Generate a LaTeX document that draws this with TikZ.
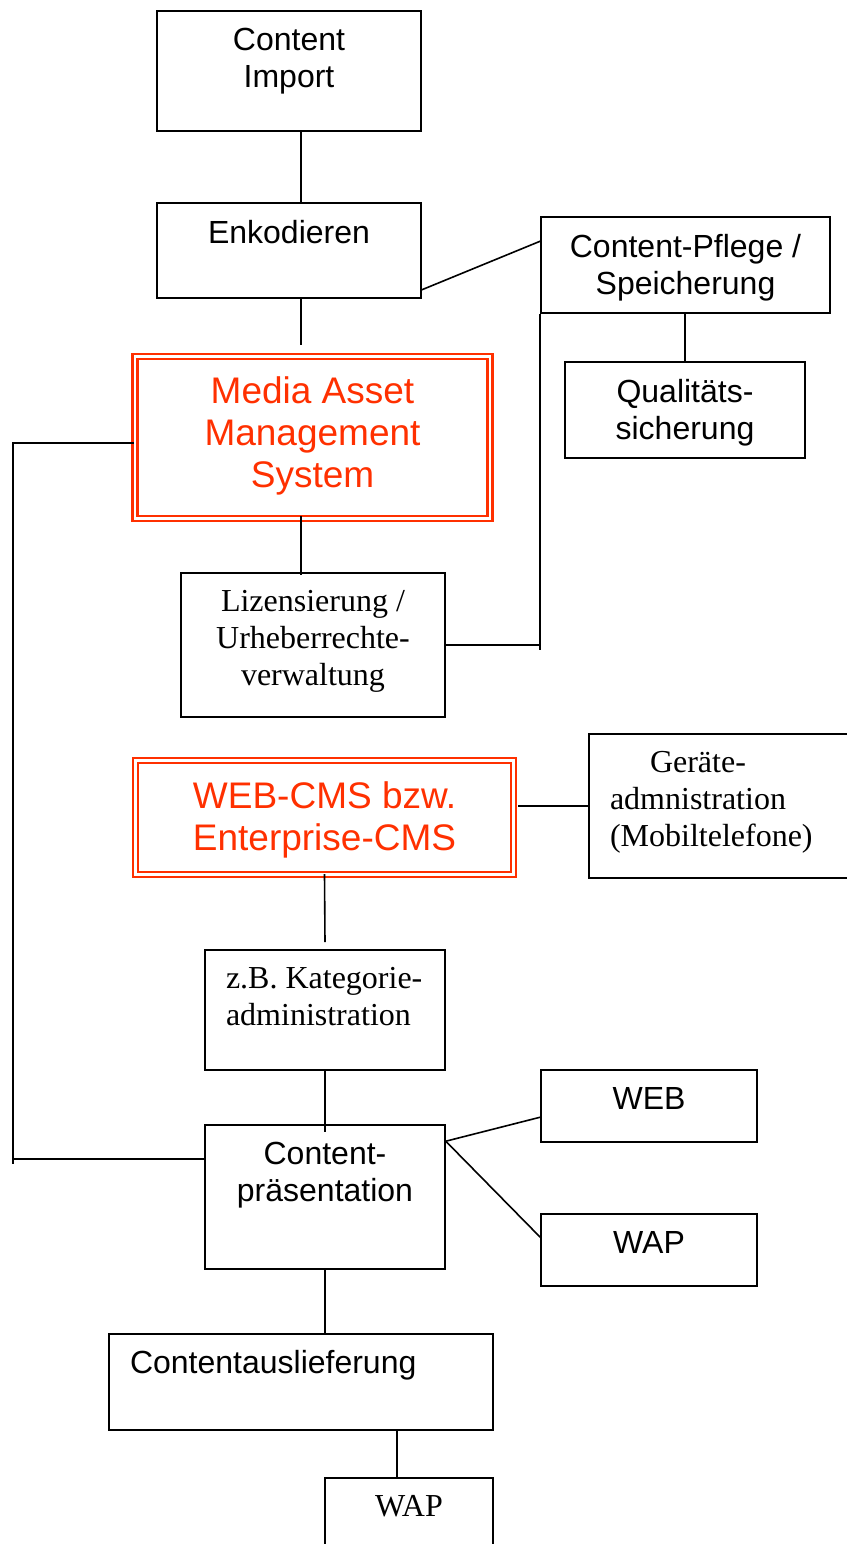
\documentclass[tikz,border=0pt]{standalone}
\usepackage{fontspec}
\setmainfont{Liberation Serif}
\setsansfont{Liberation Sans}
\usetikzlibrary{positioning}
\definecolor{masred}{RGB}{255,48,0}

\begin{document}
\begin{tikzpicture}[x=0.5pt,y=-0.5pt,line width=0.8pt]
	\tikzstyle{kasten}=[draw,line width=0.8pt,inner sep=0pt];
	\tikzstyle{rotkasten}=[draw=masred,double,line width=1.1pt,double distance=1.4pt,inner sep=0pt];
	\tikzstyle{arial}=[inner sep=0pt,align=center,font=\sffamily\fontsize{16}{18.5}\selectfont];
	\tikzstyle{times}=[inner sep=0pt,align=center,font=\rmfamily\fontsize{16}{18.5}\selectfont];
	\tikzstyle{rot}=[inner sep=0pt,align=center,text=masred,font=\sffamily\fontsize{18.5}{21}\selectfont];

	\useasboundingbox (0,0) rectangle (847,1544);
	\clip (0,0) rectangle (847,1544);

	% linke Spalte
	\node[kasten,minimum width=132pt,minimum height=60pt]   (import) at (289,71)    {};
	\node[kasten,minimum width=132pt,minimum height=47.5pt] (enk)    at (289,250.5) {};
	\node[rotkasten,minimum width=177.5pt,minimum height=81pt] (mam) at (312.5,437.5) {};
	\node[kasten,minimum width=132pt,minimum height=72pt]   (liz)    at (313,645)   {};
	\node[rotkasten,minimum width=189pt,minimum height=57pt] (cms)   at (324.5,817.5) {};
	\node[kasten,minimum width=120pt,minimum height=60pt]   (kat)    at (325,1010)  {};
	\node[kasten,minimum width=120pt,minimum height=72pt]   (praes)  at (325,1197)  {};
	\node[kasten,minimum width=192pt,minimum height=48pt]   (ausl)   at (301,1382)  {};
	\node[kasten,minimum width=84pt,minimum height=48pt]    (wapb)   at (409,1526)  {};
	% rechte Spalte
	\node[kasten,minimum width=144.5pt,minimum height=48pt] (pflege) at (685.5,265) {};
	\node[kasten,minimum width=120pt,minimum height=48pt]   (qual)   at (685,410)   {};
	\node[kasten,minimum width=143pt,minimum height=72pt]   (geraete) at (732,806)  {};
	\node[kasten,minimum width=108pt,minimum height=36pt]   (web)    at (649,1106)  {};
	\node[kasten,minimum width=108pt,minimum height=36pt]   (wap)    at (649,1250)  {};

	\node[arial,below=8.5pt of import.north] (import-t) {Content\\Import};
	\node[arial,below=8.5pt of enk.north]    (enk-t)    {Enkodieren};
	\node[rot,below=10pt of mam.north]       (mam-t)    {Media Asset\\Management\\System};
	\node[times,below=8.5pt of liz.north]    (liz-t)    {Lizensierung /\\Urheberrechte-\\verwaltung};
	\node[rot,below=10.5pt of cms.north]     (cms-t)    {WEB-CMS bzw.\\Enterprise-CMS};
	\node[times,align=left,below right=8.5pt and 10.5pt of kat.north west] (kat-t) {z.B. Kategorie-\\administration};
	\node[arial,below=8.5pt of praes.north]  (praes-t)  {Content-\\präsentation};
	\node[arial,below right=8pt and 10.5pt of ausl.north west] (ausl-t) {Contentauslieferung};
	\node[times,below=8.5pt of wapb.north]   (wapb-t)   {WAP};
	\node[arial,below=8.5pt of pflege.north] (pflege-t) {Content-Pflege /\\Speicherung};
	\node[arial,below=8.5pt of qual.north]   (qual-t)   {Qualitäts-\\sicherung};
	\node[times,align=left,below right=8.5pt and 10.5pt of geraete.north west] (geraete-t) {\hspace*{20pt}Geräte-\\admnistration\\(Mobiltelefone)};
	\node[arial,below=8.5pt of web.north]    (web-t)    {WEB};
	\node[arial,below=8.5pt of wap.north]    (wap-t)    {WAP};

	\coordinate (lft) at (13,1164);

	\draw ([xshift=6pt]import.south) -- ([xshift=6pt]enk.north);
	\draw ([xshift=6pt]enk.south) -- ([xshift=-5.75pt,yshift=5.25pt]mam.north);
	\draw ([xshift=-5.75pt,yshift=1.75pt]mam.south) -- ([xshift=-6pt,yshift=-1.5pt]liz.north);
	\draw ([yshift=4.5pt]enk.south east) -- ([yshift=-12.5pt]pflege.north west);
	\draw (pflege.south west) -- ([yshift=-2.5pt]liz.east -| pflege.south west);
	\draw (liz.east) -- (liz.east -| pflege.south west);
	\draw (qual.north) -- (qual.north |- pflege.south);
	\draw ([yshift=-2.75pt]mam.west) -| (lft);
	\draw ([yshift=19pt]praes.west) -- ([yshift=19pt]praes.west -| lft);
	\draw (geraete.west) -- ([xshift=1.5pt]geraete.west -| cms.east);
	\draw ([yshift=0.75pt]cms.south) -- ([yshift=3.5pt]kat.north);
	\draw (kat.south) -- ([yshift=-4pt]praes.north);
	\draw ([yshift=-8.5pt]praes.north east) -- ([yshift=-24pt]web.north west);
	\draw ([yshift=-8.5pt]praes.north east) -- ([yshift=-12pt]wap.north west);
	\draw (praes.south) -- (praes.south |- ausl.north);
	\draw ([xshift=-6pt]wapb.north) -- ([xshift=-6pt]wapb.north |- ausl.south);
\end{tikzpicture}
\end{document}
